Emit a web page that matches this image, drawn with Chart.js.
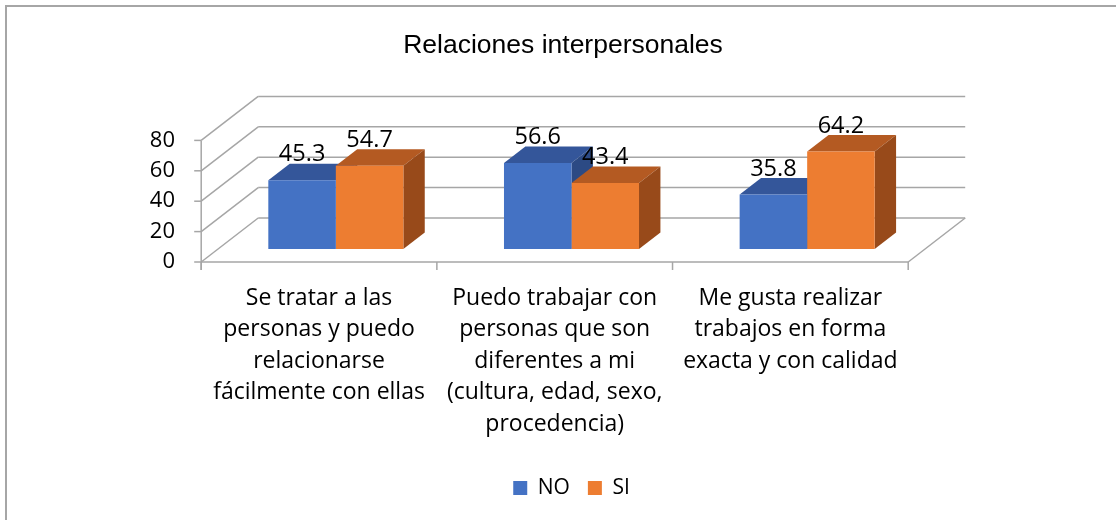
<!DOCTYPE html>
<html lang="es">
<head>
<meta charset="utf-8">
<title>Relaciones interpersonales</title>
<script src="https://cdn.jsdelivr.net/npm/chart.js@4.4.1/dist/chart.umd.min.js"></script>
<style>
    html, body { margin: 0; padding: 0; background: #fff; overflow: hidden; }
    #wrap { width: 1116px; height: 520px; }
</style>
</head>
<body>
<div id="wrap"><canvas id="chart" width="1116" height="520"></canvas></div>
<script>
const categories = [
    ['Se tratar a las', 'personas y puedo', 'relacionarse', 'fácilmente con ellas'],
    ['Puedo trabajar con', 'personas que son', 'diferentes a mi', '(cultura, edad, sexo,', 'procedencia)'],
    ['Me gusta realizar', 'trabajos en forma', 'exacta y con calidad']
];
const noValues = [45.3, 56.6, 35.8];
const siValues = [54.7, 43.4, 64.2];
const yTicks = [0, 20, 40, 60, 80];

const FONT = '"Open Sans", "Noto Sans", sans-serif';
const GRID = '#A6A6A6';
// oblique offsets from the bar plane
const FRONT = { x: -16.8, y: 13 };
const BACK = { x: 40.2, y: -31 };
const DEPTH = { x: 21.4, y: -16.5 };
const topColors = ['#34569A', '#B45A22'];
const sideColors = ['#2C4A84', '#984A1A'];

function line(ctx, x1, y1, x2, y2) {
    ctx.beginPath();
    ctx.moveTo(x1, y1);
    ctx.lineTo(x2, y2);
    ctx.stroke();
}

function poly(ctx, pts, color) {
    ctx.beginPath();
    ctx.moveTo(pts[0][0], pts[0][1]);
    pts.slice(1).forEach(p => ctx.lineTo(p[0], p[1]));
    ctx.closePath();
    ctx.fillStyle = color;
    ctx.fill();
}

const frame3d = {
    id: 'frame3d',
    beforeDraw(chart) {
        const ctx = chart.ctx;
        ctx.save();
        ctx.strokeStyle = GRID;
        ctx.lineWidth = 2;
        ctx.strokeRect(6, 6, 1300, 700);
        ctx.restore();
    },
    beforeDatasetsDraw(chart) {
        const { ctx, chartArea: a, scales: { x, y } } = chart;
        ctx.save();
        ctx.strokeStyle = GRID;
        ctx.lineWidth = 1.5;

        const y0 = y.getPixelForValue(0);
        const yTop = y.getPixelForValue(yTicks[yTicks.length - 1]);

        yTicks.forEach(v => {
            const py = y.getPixelForValue(v);
            line(ctx, a.left + FRONT.x, py + FRONT.y, a.left + BACK.x, py + BACK.y);
            line(ctx, a.left + BACK.x, py + BACK.y, a.right + BACK.x, py + BACK.y);
            line(ctx, a.left + FRONT.x - 7, py + FRONT.y, a.left + FRONT.x, py + FRONT.y);
        });

        // floor
        line(ctx, a.left + FRONT.x, y0 + FRONT.y, a.right + FRONT.x, y0 + FRONT.y);
        line(ctx, a.right + FRONT.x, y0 + FRONT.y, a.right + BACK.x, y0 + BACK.y);
        // front value axis
        line(ctx, a.left + FRONT.x, yTop + FRONT.y, a.left + FRONT.x, y0 + FRONT.y + 8);
        // category ticks
        for (let i = 0; i <= categories.length; i++) {
            const px = x.getPixelForValue(i - 0.5) + FRONT.x;
            line(ctx, px, y0 + FRONT.y, px, y0 + FRONT.y + 8);
        }

        // bar tops and sides (fronts are drawn by Chart.js)
        for (let i = 0; i < categories.length; i++) {
            chart.data.datasets.forEach((ds, d) => {
                const bar = chart.getDatasetMeta(d).data[i];
                const l = bar.x - bar.width / 2, r = bar.x + bar.width / 2;
                const t = bar.y, b = bar.base;
                poly(ctx, [[l, t], [r, t], [r + DEPTH.x, t + DEPTH.y], [l + DEPTH.x, t + DEPTH.y]], topColors[d]);
                poly(ctx, [[r, t], [r + DEPTH.x, t + DEPTH.y], [r + DEPTH.x, b + DEPTH.y], [r, b]], sideColors[d]);
            });
        }
        ctx.restore();
    },
    afterDatasetsDraw(chart) {
        const ctx = chart.ctx;
        ctx.save();
        ctx.font = '23.5px ' + FONT;
        ctx.fillStyle = '#000';
        ctx.textAlign = 'center';
        ctx.textBaseline = 'middle';
        chart.data.datasets.forEach((ds, d) => {
            chart.getDatasetMeta(d).data.forEach((bar, i) => {
                ctx.fillText(ds.data[i].toFixed(1), bar.x, bar.y - 25.5);
            });
        });
        ctx.restore();
    }
};

new Chart(document.getElementById('chart'), {
    type: 'bar',
    data: {
        labels: categories,
        datasets: [
            { label: 'NO', data: noValues, backgroundColor: '#4472C4', categoryPercentage: 0.573, barPercentage: 1 },
            { label: 'SI', data: siValues, backgroundColor: '#ED7D31', categoryPercentage: 0.573, barPercentage: 1 }
        ]
    },
    options: {
        responsive: false,
        animation: false,
        layout: { padding: { left: 140, right: 130, top: 0, bottom: 11.5 } },
        plugins: {
            title: {
                display: true,
                text: 'Relaciones interpersonales',
                color: '#000',
                font: { family: '"Liberation Sans", Arial, sans-serif', size: 26.5, weight: 'normal' },
                padding: { top: 30, bottom: 65.6 }
            },
            legend: {
                position: 'bottom',
                fullSize: false,
                labels: { boxWidth: 14, boxHeight: 14, padding: 18, color: '#000', font: { family: FONT, size: 21 } }
            },
            tooltip: { enabled: false }
        },
        scales: {
            x: {
                grid: { display: false, drawTicks: false },
                border: { display: false },
                ticks: {
                    color: '#000',
                    font: { family: FONT, size: 23, lineHeight: '31.5px' },
                    padding: 33.25,
                    labelOffset: FRONT.x,
                    maxRotation: 0,
                    autoSkip: false
                },
                afterFit: s => { s.height = 210.5; }
            },
            y: {
                min: 0,
                max: 80,
                grid: { display: false, drawTicks: false },
                border: { display: false },
                ticks: { stepSize: 20, color: '#000', font: { family: FONT, size: 22 }, padding: 43, labelOffset: FRONT.y },
                afterFit: s => { s.width = 78; }
            },
            // empty right-hand spacer so the plot ends where the reference does
            spacer: {
                type: 'linear',
                position: 'right',
                grid: { display: false, drawTicks: false },
                border: { display: false },
                ticks: { display: false },
                afterFit: s => { s.width = 61; }
            }
        }
    },
    plugins: [frame3d]
});
</script>
</body>
</html>
